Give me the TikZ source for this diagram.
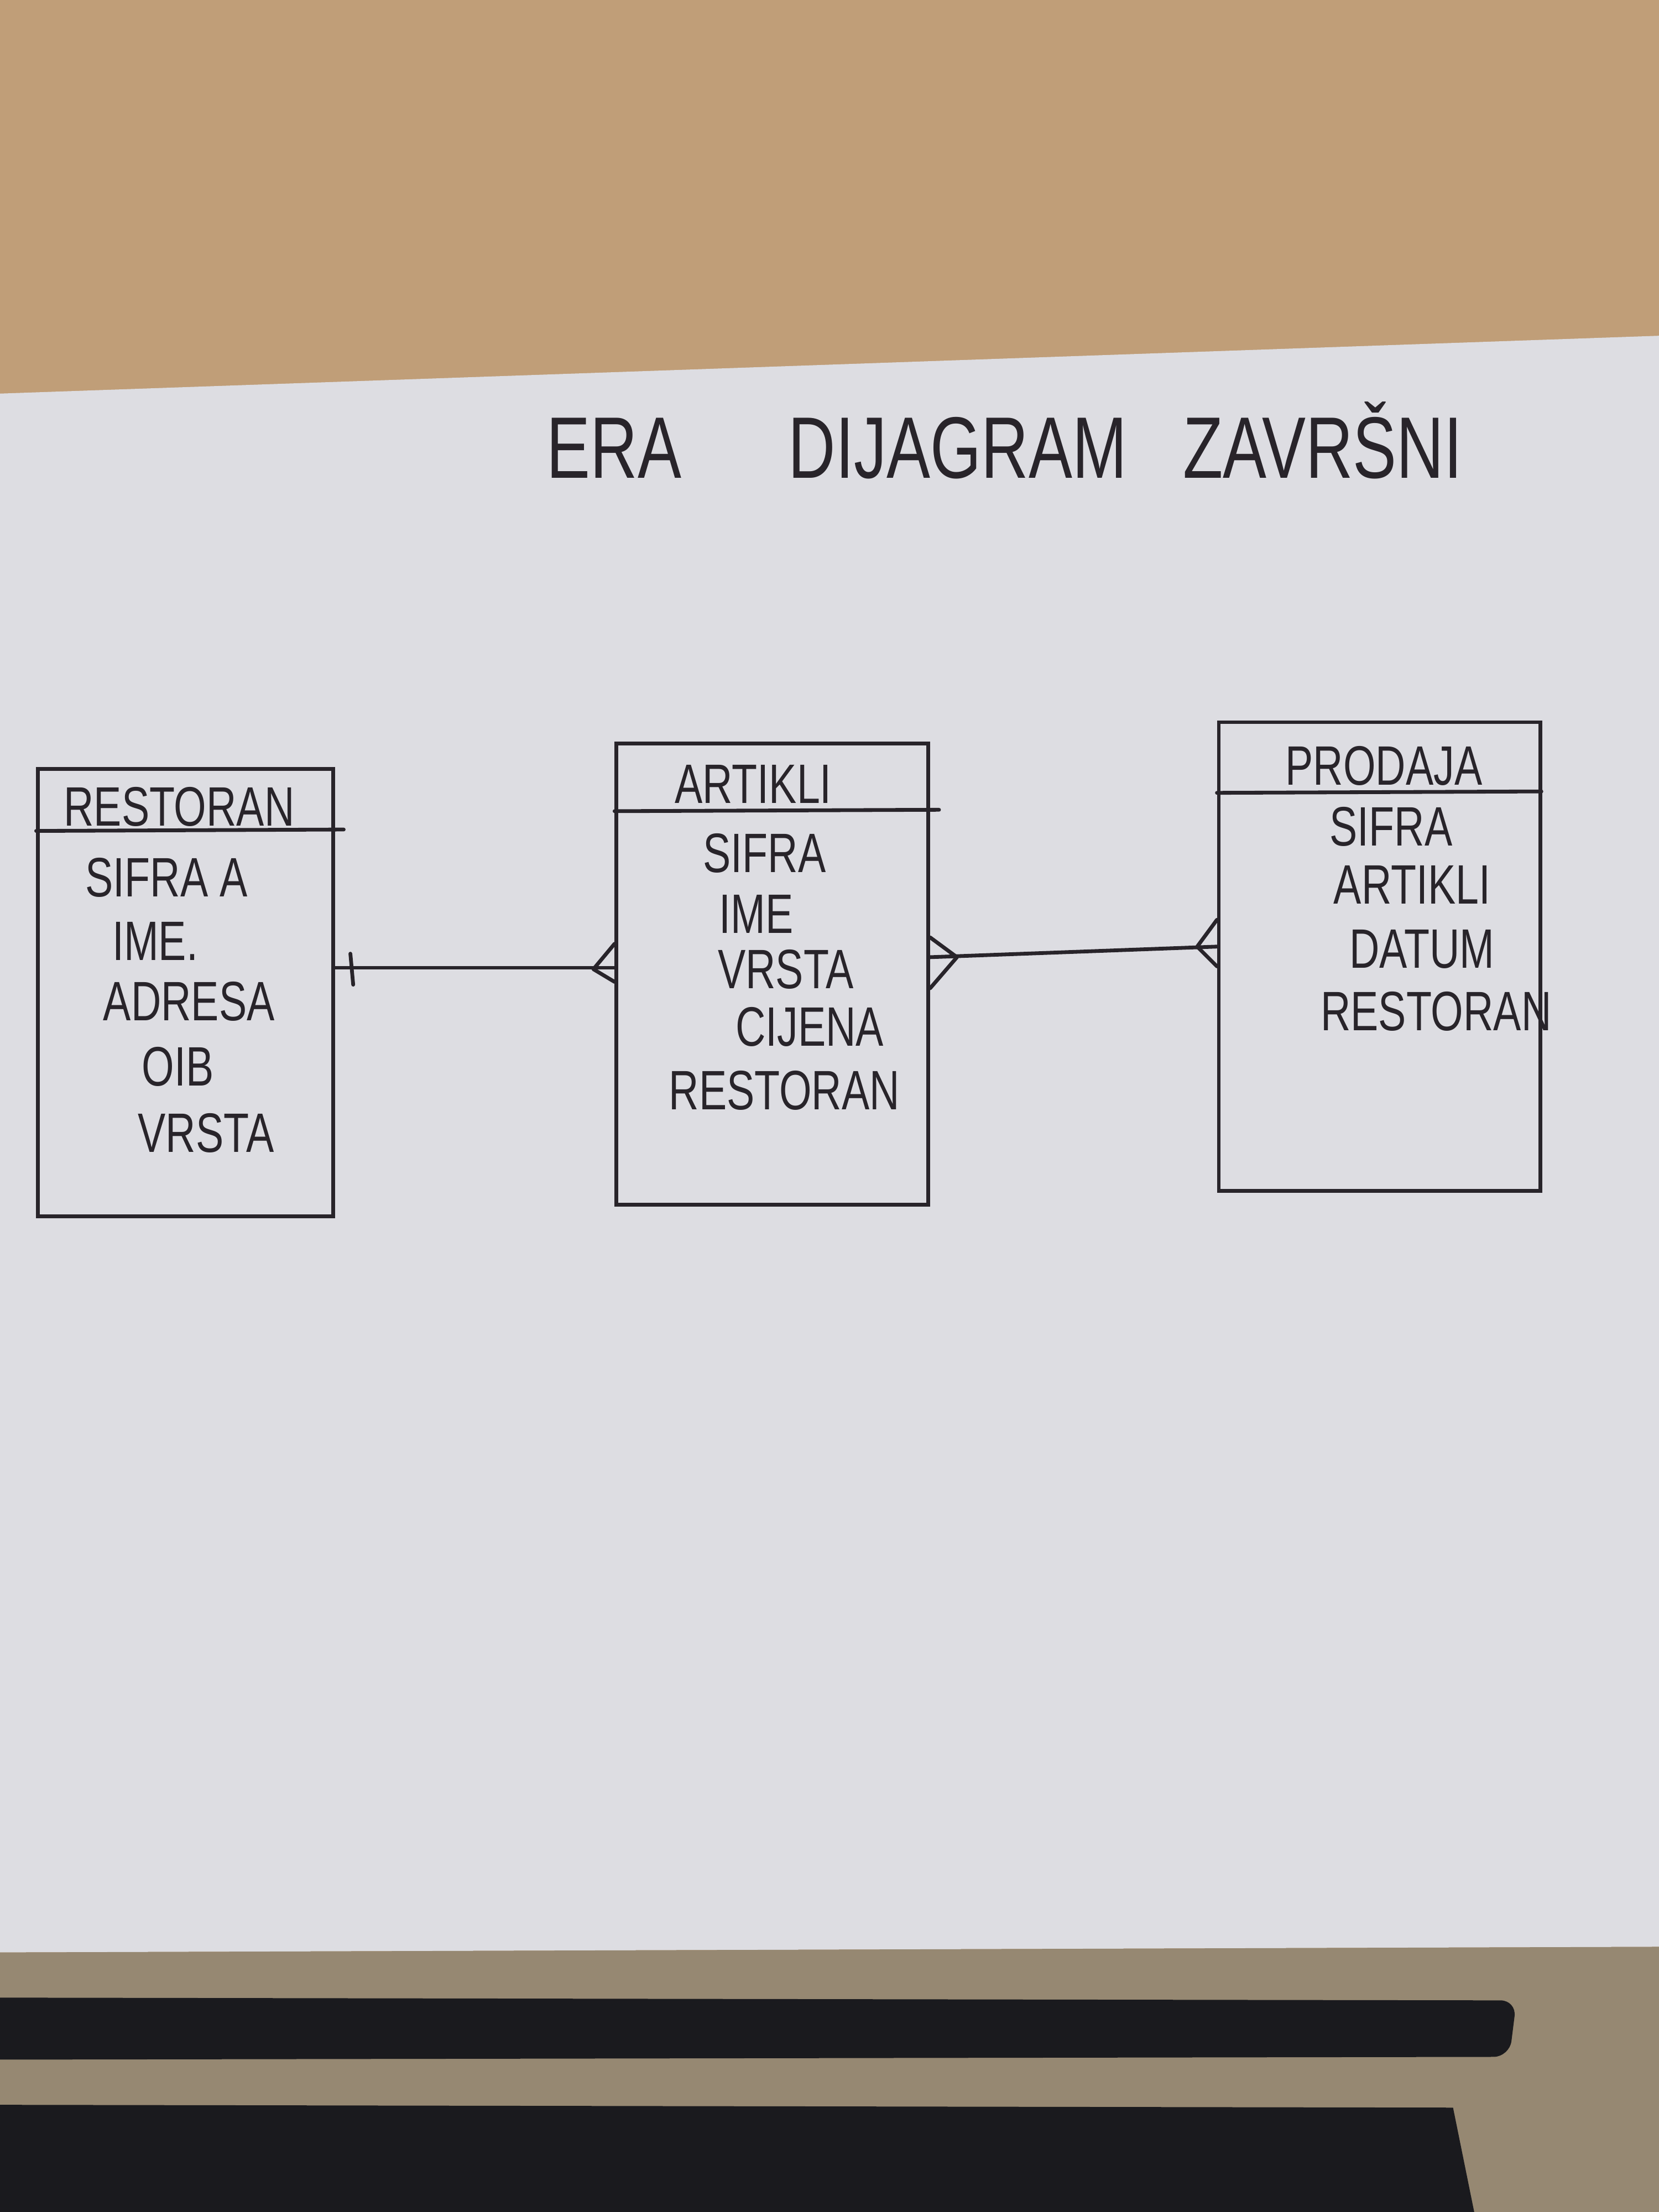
\documentclass[tikz,border=0pt]{standalone}
\usepackage{fontspec}
\usepackage{tikz}
\usetikzlibrary{calc}
\newfontfamily\handfont[FakeStretch=0.75]{Liberation Sans}
\definecolor{ink}{RGB}{40,36,42}
\definecolor{paper}{RGB}{221,221,226}
\definecolor{wood}{RGB}{192,158,120}
\definecolor{woodlow}{RGB}{150,136,114}
\definecolor{cloth}{RGB}{26,26,30}
\tikzset{
    diagramentity/.style={draw=ink, line width=1.9pt, inner sep=0pt},
    diagramname/.style={text=ink, font=\handfont\fontsize{28}{32}\selectfont, inner sep=0pt},
    diagramfield/.style={text=ink, font=\handfont\fontsize{28}{32}\selectfont, inner sep=0pt},
    diagramheading/.style={text=ink, font=\handfont\fontsize{44}{50}\selectfont, inner sep=0pt},
    diagramline/.style={draw=ink, line width=1.9pt, line cap=round, line join=round}
}
\begin{document}
\begin{tikzpicture}[x=0.025cm, y=-0.025cm]
        \useasboundingbox (0,0) rectangle (1176,1568);
        \clip (0,0) rectangle (1176,1568);
        \fill[wood] (0,0) rectangle (1176,1568);
        \fill[paper] (0,279) -- (1176,238) -- (1176,1380) -- (0,1384) -- cycle;
        \fill[woodlow] (0,1384) -- (1176,1380) -- (1176,1568) -- (0,1568) -- cycle;
        \fill[cloth, rounded corners=8] (-10,1416) -- (1075,1418) -- (1070,1458) -- (-10,1460) -- cycle;
        \fill[cloth] (0,1492) -- (1030,1494) -- (1045,1568) -- (0,1568) -- cycle;

        \node[diagramheading] (heading) at (712,312) {ERA\hspace{1.9cm}DIJAGRAM\hspace{1cm}ZAVRŠNI};

        \node[diagramentity, minimum width=5.225cm, minimum height=7.925cm] (restoran) at (131.5,703.5) {};
        \node[diagramentity, minimum width=5.525cm, minimum height=8.175cm] (artikli) at (547.5,690.5) {};
        \node[diagramentity, minimum width=5.7cm, minimum height=8.3cm] (prodaja) at (978,678) {};

        \draw[diagramline] (restoran.west |- 0,589) -- ++(218,-1);
        \draw[diagramline] (artikli.west |- 0,575) -- ++(230,-1);
        \draw[diagramline] (prodaja.west |- 0,562) -- ++(230,-1);

        \node[diagramname] (restoranname) at (127,572) {RESTORAN};
        \node[diagramname] (artikliname) at (534,556) {ARTIKLI};
        \node[diagramname] (prodajaname) at (981,543) {PRODAJA};

        \foreach \n/\x/\y/\t in {1/118/622/SIFRA A, 2/110/667/IME., 3/134/710/ADRESA, 4/126/756/OIB, 5/146/803/VRSTA}
            \node[diagramfield] (restoran\n) at (\x,\y) {\t};
        \foreach \n/\x/\y/\t in {1/542/605/SIFRA, 2/536/648/IME, 3/557/687/VRSTA, 4/574/728/CIJENA, 5/556/773/RESTORAN}
            \node[diagramfield] (artikli\n) at (\x,\y) {\t};
        \foreach \n/\x/\y/\t in {1/986/586/SIFRA, 2/1001/627/ARTIKLI, 3/1008/673/DATUM, 4/1018/717/RESTORAN}
            \node[diagramfield] (prodaja\n) at (\x,\y) {\t};

        \coordinate (linkleft) at (0,686);
        \coordinate (restoranport) at (restoran.east |- linkleft);
        \coordinate (artikliportl) at (artikli.west |- linkleft);
        \coordinate (artikliportr) at ($(artikli.east)+(0,-12)$);
        \coordinate (prodajaport) at ($(prodaja.west)+(0,-7)$);

        \draw[diagramline] (restoranport) -- (artikliportl);
        \draw[diagramline] ($(restoranport)+(11,-10)$) -- ($(restoranport)+(13,12)$);
        \draw[diagramline] ($(artikliportl)+(0,-17)$) -- ($(artikliportl)+(-15,1)$) -- ($(artikliportl)+(0,10)$);

        \draw[diagramline] (artikliportr) -- (prodajaport);
        \draw[diagramline] ($(artikliportr)+(0,-14)$) -- ($(artikliportr)+(19,0)$) -- ($(artikliportr)+(0,22)$);
        \draw[diagramline] ($(prodajaport)+(0,-19)$) -- ($(prodajaport)+(-14,0)$) -- ($(prodajaport)+(0,14)$);
    \end{tikzpicture}
\end{document}
